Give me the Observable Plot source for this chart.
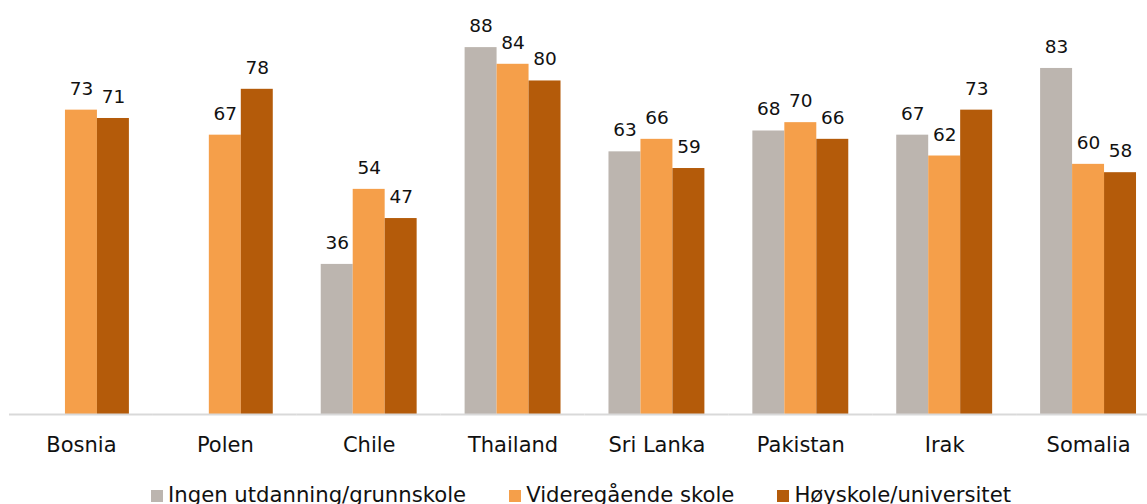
<!DOCTYPE html>
<html>
<head>
<meta charset="utf-8">
<script src="https://cdn.jsdelivr.net/npm/d3@7"></script>
<script src="https://cdn.jsdelivr.net/npm/@observablehq/plot@0.6"></script>
<style>
  html, body { margin: 0; padding: 0; background: #fff; overflow: hidden; }
  body { font-family: "DejaVu Sans", Verdana, sans-serif; color: #111; }
  #chart svg { display: block; }
  #legend { display: flex; justify-content: center; gap: 43px; font-size: 21.2px; line-height: 24px; height: 24px; white-space: nowrap; padding-left: 15px; }
  #legend .item { display: inline-block; }
  #legend .sw { display: inline-block; width: 12px; height: 12px; margin-right: 5px; vertical-align: baseline; }
</style>
</head>
<body>
<div id="chart"></div>
<div id="legend"></div>
<script>
const countries = ["Bosnia", "Polen", "Chile", "Thailand", "Sri Lanka", "Pakistan", "Irak", "Somalia"];
const series = ["Ingen utdanning/grunnskole", "Videregående skole", "Høyskole/universitet"];
const ingen = [null, null, 36, 88, 63, 68, 67, 83];
const videregaende = [73, 67, 54, 84, 66, 70, 62, 60];
const hoyskole = [71, 78, 47, 80, 59, 66, 73, 58];
const colors = ["#bcb5af", "#f59f4a", "#b45b0a"];

const valuesBySeries = [ingen, videregaende, hoyskole];
const data = [];
countries.forEach((c, i) => {
  series.forEach((s, j) => {
    const v = valuesBySeries[j][i];
    if (v != null) data.push({country: c, series: s, value: v});
  });
});

const chart = Plot.plot({
  width: 1147,
  height: 483,
  marginTop: 0,
  marginBottom: 69,
  marginLeft: 9,
  marginRight: -13,
  style: {fontFamily: "DejaVu Sans, Verdana, sans-serif", fontSize: "21px", color: "#111", background: "#fff"},
  fx: {domain: countries, paddingInner: 0, paddingOuter: 0, round: false, label: null, tickSize: 0, tickPadding: 23, axis: "bottom"},
  x: {domain: series, paddingInner: 0, paddingOuter: 0.75, round: false, axis: null},
  y: {domain: [0, 99.3], axis: null},
  color: {domain: series, range: colors},
  marks: [
    Plot.barY(data, {fx: "country", x: "series", y: "value", fill: "series"}),
    Plot.ruleY([0], {stroke: "#d9d9d9", strokeWidth: 2}),
    Plot.text(data, {fx: "country", x: "series", y: "value", text: d => String(d.value), lineAnchor: "bottom", dy: -15.5, fontSize: 18.5, fill: "#111"})
  ]
});
document.getElementById("chart").appendChild(chart);

const legend = document.getElementById("legend");
series.forEach((s, j) => {
  const item = document.createElement("span");
  item.className = "item";
  const sw = document.createElement("span");
  sw.className = "sw";
  sw.style.background = colors[j];
  item.appendChild(sw);
  item.appendChild(document.createTextNode(s));
  legend.appendChild(item);
});
</script>
</body>
</html>
